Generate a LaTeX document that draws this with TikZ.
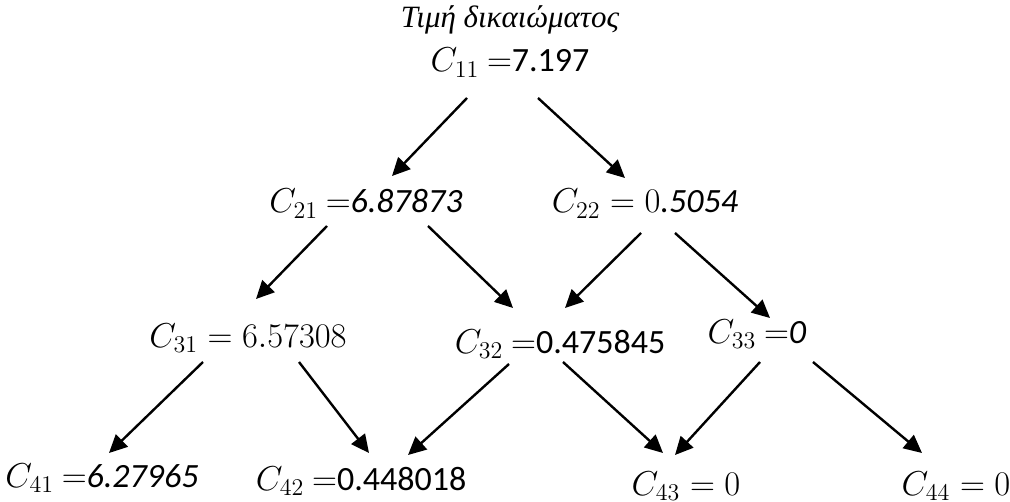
\documentclass[tikz,border=0pt]{standalone}
\usepackage[no-math]{fontspec}
\setmainfont{Carlito}
\newfontfamily\greekfont{Liberation Serif}
\usetikzlibrary{arrows.meta}

\begin{document}
\begin{tikzpicture}[x=0.5pt, y=-0.5pt,
  price/.style={anchor=base, inner sep=0pt, font=\fontsize{17}{20}\selectfont},
  link/.style={line width=1.2pt, -{Triangle[length=9pt, width=8.5pt]}},
  title/.style={anchor=base, inner sep=0pt, font=\greekfont\itshape\fontsize{15.5}{18}\selectfont},
]
\useasboundingbox (0,0) rectangle (1010,502);

\node[title] (head) at (510, 28) {Τιμή δικαιώματος};

\node[price] (c11) at (510, 72) {$C_{11}$ $=$7.197};

\node[price] (c21) at (366, 213) {$C_{21}$ $=$\textit{6.87873}};
\node[price] (c22) at (645, 213) {$C_{22} = 0$\textit{.5054}};

\node[price] (c31) at (248, 347) {$C_{31} = 6.57308$};
\node[price] (c32) at (560, 353) {$C_{32}$ $=$0.475845};
\node[price] (c33) at (757, 343) {$C_{33}$ $=$\textit{0}};

\node[price] (c41) at (102, 487) {$C_{41}$ $=$\textit{6.27965}};
\node[price] (c42) at (361, 490) {$C_{42}$ $=$0.448018};
\node[price] (c43) at (686, 495) {$C_{43} = 0$};
\node[price] (c44) at (956, 495) {$C_{44} = 0$};

\draw[link] ([shift={(-43,26)}]c11.base) -- ([shift={(26,-37)}]c21.base);
\draw[link] ([shift={(28,26)}]c11.base) -- ([shift={(-20,-35)}]c22.base);
\draw[link] ([shift={(-39,13)}]c21.base) -- ([shift={(8,-48)}]c31.base);
\draw[link] ([shift={(62,13)}]c21.base) -- ([shift={(-47,-45)}]c32.base);
\draw[link] ([shift={(-4,20)}]c22.base) -- ([shift={(5,-45)}]c32.base);
\draw[link] ([shift={(30,20)}]c22.base) -- ([shift={(13,-25)}]c33.base);
\draw[link] ([shift={(-45,15)}]c31.base) -- ([shift={(7,-34)}]c41.base);
\draw[link] ([shift={(51,15)}]c31.base) -- ([shift={(8,-37)}]c42.base);
\draw[link] ([shift={(-51,11)}]c32.base) -- ([shift={(47,-35)}]c42.base);
\draw[link] ([shift={(3,9)}]c32.base) -- ([shift={(-23,-42)}]c43.base);
\draw[link] ([shift={(3,19)}]c33.base) -- ([shift={(-11,-40)}]c43.base);
\draw[link] ([shift={(56,19)}]c33.base) -- ([shift={(-34,-42)}]c44.base);

\end{tikzpicture}
\end{document}
